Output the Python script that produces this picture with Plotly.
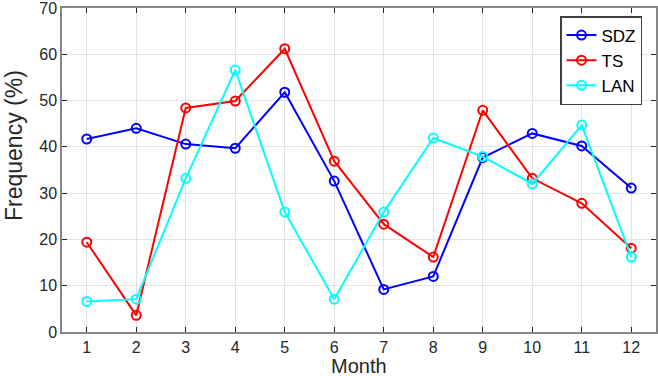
import plotly.graph_objects as go

months = list(range(1, 13))
sdz = [41.7, 44.0, 40.6, 39.7, 51.8, 32.6, 9.2, 12.0, 37.7, 42.9, 40.2, 31.1]
ts = [19.4, 3.6, 48.4, 49.9, 61.2, 36.9, 23.3, 16.2, 47.9, 33.2, 27.8, 18.1]
lan = [6.6, 7.1, 33.2, 56.6, 25.9, 7.1, 25.9, 41.9, 37.9, 32.0, 44.7, 16.2]
x_ticks = list(range(1, 13))
y_ticks = list(range(0, 71, 10))

series = [("SDZ", sdz, "#0000ff"), ("TS", ts, "#ff0000"), ("LAN", lan, "#00ffff")]

fig = go.Figure()
for name, vals, col in series:
    fig.add_trace(go.Scatter(
        x=months, y=vals, name=name, mode="lines+markers",
        line=dict(color=col, width=2),
        marker=dict(symbol="circle-open", size=9, color=col, line=dict(width=2, color=col)),
    ))

axis_common = dict(
    showline=True, linecolor="#868686", linewidth=1.5, mirror="ticks",
    ticks="inside", ticklen=5, tickcolor="#262626", tickwidth=1,
    showgrid=True, gridcolor="#e3e3e3", gridwidth=1, zeroline=False,
    automargin=False, ticklabeloverflow="allow",
    tickfont=dict(family="Liberation Sans, Arial", size=16, color="#262626"),
)

L, R, T, B = 62, 2, 8, 44
W, H = 658, 376
pw, ph = W - L - R, H - T - B

fig.update_layout(
    width=W, height=H,
    margin=dict(l=L, r=R, t=T, b=B),
    paper_bgcolor="white", plot_bgcolor="white",
    font=dict(family="Liberation Sans, Arial", color="#262626"),
    xaxis=dict(range=[0.5, 12.5], tickvals=x_ticks, **axis_common),
    yaxis=dict(range=[0, 70], tickvals=y_ticks, **axis_common),
    legend=dict(x=(642 - L) / pw, y=(332 - 16) / ph, xanchor="right", yanchor="top",
                bordercolor="#404040", borderwidth=1.5, bgcolor="white",
                font=dict(size=17, color="#000000"), tracegroupgap=0,
                itemwidth=30),
    showlegend=True,
    annotations=[
        dict(text="Month", x=(359 - L) / pw, y=(332 - 366) / ph, xref="paper", yref="paper",
             xanchor="center", yanchor="middle",
             showarrow=False, font=dict(size=20, color="#262626")),
        dict(text="Frequency (%)", x=(14 - L) / pw, y=(332 - 145) / ph, xref="paper", yref="paper",
             xanchor="center", yanchor="middle",
             textangle=-90, showarrow=False, font=dict(size=23, color="#262626")),
    ],
)

fig.write_html("out.html", config={"displayModeBar": False})
with open("out.html", "r", encoding="utf-8") as f:
    html = f.read()
html = html.replace("<head>", "<head><style>html,body{margin:0;padding:0;overflow:hidden;}</style>", 1)
with open("out.html", "w", encoding="utf-8") as f:
    f.write(html)
